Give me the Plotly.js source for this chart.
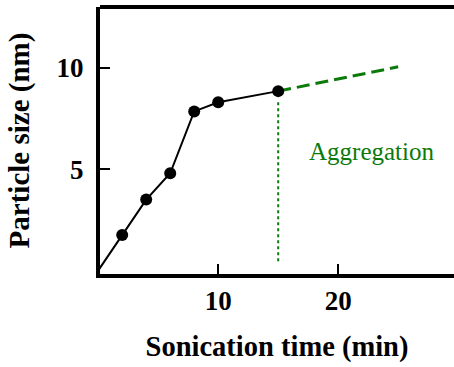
<!DOCTYPE html>
<html>
<head>
<meta charset="utf-8">
<script src="https://cdn.plot.ly/plotly-3.0.1.min.js"></script>
<style>html,body{margin:0;padding:0;background:#fff;}#chart{width:454px;height:367px;}</style>
</head>
<body>
<div id="chart"></div>
<script>
// Measured data
const sonicationTime = [0, 2, 4, 6, 8, 10, 15];
const particleSize = [0, 1.75, 3.5, 4.8, 7.85, 8.3, 8.85];
// Aggregation trend (dashed)
const aggTime = [15, 25];
const aggSize = [8.85, 10.05];
// Vertical marker at onset of aggregation (dotted)
const onsetTime = [15, 15];
const onsetSize = [8.3, 0.45];
const xTicks = [10, 20];
const yTicks = [5, 10];
const annotationText = "Aggregation";

const green = "#0b7a0b";
const serif = "Liberation Serif, Times New Roman, serif";

const traces = [
  {x: onsetTime, y: onsetSize, mode: "lines", line: {color: green, width: 2, dash: "dot"}, hoverinfo: "skip"},
  {x: sonicationTime, y: particleSize, mode: "lines", line: {color: "#000", width: 2}, hoverinfo: "skip"},
  {x: aggTime, y: aggSize, mode: "lines", line: {color: green, width: 3, dash: "13px,6px"}, hoverinfo: "skip"},
  {x: sonicationTime.slice(1), y: particleSize.slice(1), mode: "markers", marker: {color: "#000", size: 12}, hoverinfo: "skip"}
];

const layout = {
  width: 454, height: 367,
  margin: {l: 100, r: 0, t: 7, b: 92.5},
  paper_bgcolor: "#fff", plot_bgcolor: "#fff",
  showlegend: false,
  xaxis: {
    range: [0.15, 29.65], tickvals: xTicks, ticktext: xTicks.map(String),
    ticks: "inside", ticklen: 10, tickwidth: 2.5, tickcolor: "#000",
    showline: true, linecolor: "#000", linewidth: 4, showgrid: false, zeroline: false,
    tickfont: {family: serif, size: 27, color: "#000", weight: "bold"},
    title: {text: "<b>Sonication time (min)</b>", font: {family: serif, size: 28.5, color: "#000"}, standoff: 22}
  },
  yaxis: {
    range: [-0.17, 13.0], tickvals: yTicks, ticktext: yTicks.map(String),
    ticks: "inside", ticklen: 10, tickwidth: 2.5, tickcolor: "#000", ticklabelstandoff: 7,
    showline: true, linecolor: "#000", linewidth: 4, showgrid: false, zeroline: false,
    tickfont: {family: serif, size: 27, color: "#000", weight: "bold"},
    title: {text: "<b>Particle size (nm)</b>", font: {family: serif, size: 29, color: "#000"}, standoff: 19}
  },
  shapes: [
    {type: "line", xref: "paper", yref: "paper", x0: 0, x1: 1, y0: 1, y1: 1, line: {color: "#000", width: 4}}
  ],
  annotations: [
    {x: 0.585, y: 0.458, xref: "paper", yref: "paper", text: annotationText, showarrow: false,
     xanchor: "left", yanchor: "middle", font: {family: serif, size: 25, color: green}}
  ]
};

Plotly.newPlot("chart", traces, layout, {staticPlot: true, displayModeBar: false});
</script>
</body>
</html>
